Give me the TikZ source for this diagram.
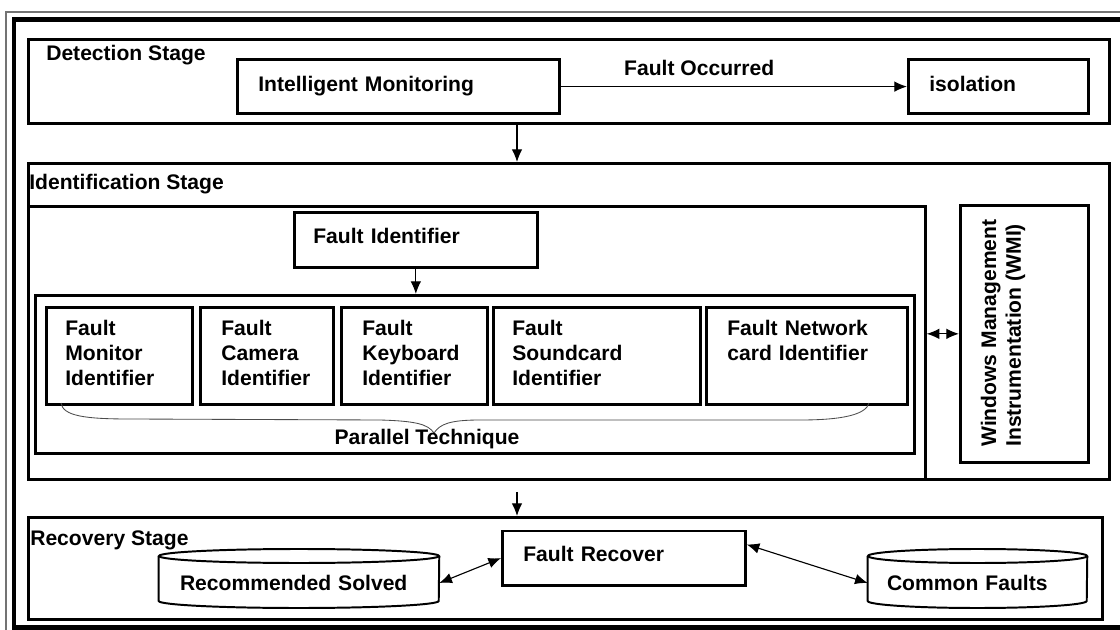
\documentclass[tikz,border=0pt]{standalone}
\usepackage{fontspec}
\setmainfont{Liberation Sans}
\usetikzlibrary{arrows.meta}

\newdimen\Px
\Px=0.025cm % one pixel of the 1120 x 630 drawing

\tikzset{
  stage/.style={draw, line width=1.9pt, anchor=north west, inner sep=0pt},
  unit/.style={draw, line width=1.9pt, anchor=north west, align=left, inner ysep=0pt},
  tag/.style={anchor=west, inner sep=0pt},
  db/.style={align=left, inner ysep=0pt},
  dbline/.style={line width=1.4pt},
  link/.style={-{Latex[length=9pt,width=7.5pt]}, line width=0.8pt},
  dlink/.style={{Latex[length=9pt,width=7.5pt]}-{Latex[length=9pt,width=7.5pt]}, line width=0.8pt},
  brace/.style={draw=black!70, line width=0.6pt}
}

\begin{document}
\begin{tikzpicture}[x=\Px, y=-\Px, font=\fontsize{15}{17.7}\selectfont\bfseries]

	\useasboundingbox (0,0) rectangle (1120,630);
	\fill[white] (0,0) rectangle (1120,630);
	\clip (0,0) rectangle (1120,630);

	% double frame, cut off by the page on the right and at the bottom
	\draw[black!55, line width=1pt] (6,12) rectangle (1150,650);
	\draw[line width=3pt] (14,19.5) rectangle (1140,627.5);

	% the three stages
	\node[stage, minimum width=1081\Px, minimum height=84\Px] (det) at (27,38) {};
	\node[stage, minimum width=1081\Px, minimum height=316\Px] (ident) at (27,162) {};
	\node[stage, minimum width=1074\Px, minimum height=102\Px] (rec) at (27,516) {};

	\node[tag] (detlbl) at (46,55) {Detection Stage};
	\node[tag] (idlbl) at (29,184) {Identification Stage};
	\node[tag] (reclbl) at (30,540) {Recovery Stage};

	% detection
	\node[unit, text width=280\Px, inner xsep=21\Px, text height=32\Px, text depth=21.5\Px] (im) at (236,58.5) {Intelligent Monitoring};
	\node[unit, text width=138\Px, inner xsep=21\Px, text height=32\Px, text depth=21.5\Px] (iso) at (907,58.5) {isolation};
	\draw[link] (im.east) -- node[pos=0.4, yshift=12.9pt, inner sep=0pt] (focc) {Fault Occurred} (iso.west);

	\coordinate (drop) at (517,0);
	\draw[link] (det.south -| drop) -- (ident.north -| drop);

	% identification
	\node[stage, minimum width=897\Px, minimum height=273\Px] (idbody) at (27,205) {};
	\node[stage, minimum width=128\Px, minimum height=257\Px] (wmi) at (959,204) {};
	\node[rotate=90, anchor=west, align=left, inner sep=0pt] (wmitxt) at (1003,447) {Windows Management\\Instrumentation (WMI)};
	\draw[dlink] (idbody.east |- wmi.west) -- (wmi.west);

	\node[unit, text width=205\Px, inner xsep=19\Px, text height=31.5\Px, text depth=23.5\Px] (fid) at (293,211) {Fault Identifier};
	\node[stage, minimum width=879\Px, minimum height=158\Px] (par) at (34,294) {};
	\draw[link] (fid.south) -- (fid.south |- par.north);

	\node[unit, text width=108\Px, inner xsep=19\Px, text height=28.6\Px, text depth=68.4\Px] (mon) at (45,306) {Fault\\Monitor\\Identifier};
	\node[unit, text width=91\Px, inner xsep=21\Px, text height=28.6\Px, text depth=68.4\Px] (cam) at (199,306) {Fault\\Camera\\Identifier};
	\node[unit, text width=104\Px, inner xsep=21\Px, text height=28.6\Px, text depth=68.4\Px] (key) at (340,306) {Fault\\Keyboard\\Identifier};
	\node[unit, text width=169\Px, inner xsep=19\Px, text height=28.6\Px, text depth=68.4\Px] (snd) at (492,306) {Fault\\Soundcard\\Identifier};
	\node[unit, text width=159\Px, inner xsep=21\Px, text height=28.6\Px, text depth=68.4\Px] (net) at (705,306) {Fault Network\\card Identifier};

	\draw[brace] (61,403) .. controls (63,416) and (85,419) .. (130,419)
		-- (380,420) .. controls (415,421) and (428,424) .. (434,433)
		.. controls (440,424) and (450,420) .. (480,420)
		-- (800,420) .. controls (845,420) and (866,414) .. (869,403);
	\node[inner sep=0pt] (ptech) at (427,439) {Parallel Technique};

	% recovery
	\draw[link, shorten <=8pt] (ident.south -| drop) -- (rec.north -| drop);

	\node[unit, text width=201\Px, inner xsep=21\Px, text height=31\Px, text depth=23.5\Px] (fr) at (501,529.5) {Fault Recover};
	\node[db, text width=238\Px, inner xsep=21\Px] (rs) at (299,583) {Recommended Solved};
	\node[db, text width=181\Px, inner xsep=19\Px] (cf) at (977.5,583) {Common Faults};

	\foreach \db/\rx in {rs/140,cf/109.5} {
		\draw[dbline] (\db.west |- 0,556) -- (\db.west |- 0,601)
			arc[start angle=180, end angle=360, x radius=\rx\Px, y radius=7\Px]
			-- (\db.east |- 0,556);
		\draw[dbline] (\db.center |- 0,556) ellipse [x radius=\rx\Px, y radius=7\Px];
	}

	\draw[dlink] (fr.west) -- (rs.east);
	\draw[dlink] ([yshift=9.7pt]fr.east) -- (cf.west);

\end{tikzpicture}
\end{document}
